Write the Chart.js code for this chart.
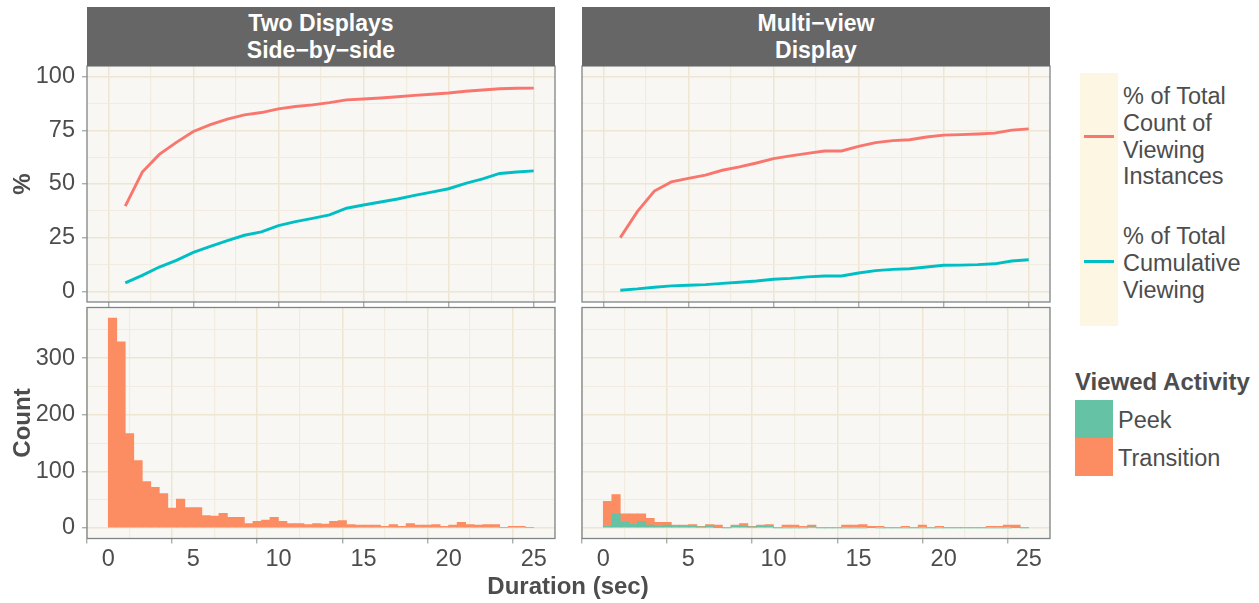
<!DOCTYPE html>
<html>
<head>
<meta charset="utf-8">
<script src="https://cdn.jsdelivr.net/npm/chart.js@4.4.1/dist/chart.umd.min.js"></script>
<style>
  body { margin: 0; background: #ffffff; }
  #fig { position: relative; width: 1259px; height: 603px; overflow: hidden;
         font-family: "Liberation Sans", Arial, Helvetica, sans-serif; color: #4D4D4D; }
  #fig canvas { position: absolute; }
  .strip { position: absolute; top: 7px; height: 59px; background: #666666; color: #ffffff;
           font-weight: bold; font-size: 23px; line-height: 27px; text-align: center;
           display: flex; flex-direction: column; justify-content: center; }
  .txt { position: absolute; white-space: nowrap; }
  .key { position: absolute; }
</style>
</head>
<body>
<div id="fig">
  <canvas id="pctTwo"></canvas>
  <canvas id="pctMulti"></canvas>
  <canvas id="cntTwo"></canvas>
  <canvas id="cntMulti"></canvas>

  <div class="strip" style="left:87px;width:468px;"><div>Two Displays</div><div>Side−by−side</div></div>
  <div class="strip" style="left:582px;width:468px;"><div>Multi−view</div><div>Display</div></div>

  <div class="txt" style="left:568px;top:572px;transform:translateX(-50%);font-weight:bold;font-size:24px;line-height:28px;">Duration (sec)</div>

  <!-- line legend -->
  <div class="key" style="left:1080px;top:72.7px;width:37.7px;height:253px;background:#FDF6E3;"></div>
  <div class="key" style="left:1084px;top:134.5px;width:30px;height:3px;background:#F8766D;"></div>
  <div class="key" style="left:1084px;top:260.3px;width:30px;height:3px;background:#00BFC4;"></div>
  <div class="txt" style="left:1123px;top:83.3px;font-size:23.5px;line-height:26.7px;">% of Total<br>Count of<br>Viewing<br>Instances</div>
  <div class="txt" style="left:1123px;top:222.5px;font-size:23.5px;line-height:27px;">% of Total<br>Cumulative<br>Viewing</div>

  <!-- fill legend -->
  <div class="txt" style="left:1075px;top:367.7px;font-weight:bold;font-size:24px;line-height:28px;">Viewed Activity</div>
  <div class="key" style="left:1075px;top:400px;width:38px;height:37.7px;background:#66C2A5;"></div>
  <div class="key" style="left:1075px;top:437.7px;width:38px;height:38px;background:#FC8D62;"></div>
  <div class="txt" style="left:1118px;top:406px;font-size:23.5px;line-height:28px;">Peek</div>
  <div class="txt" style="left:1118px;top:444px;font-size:23.5px;line-height:28px;">Transition</div>
</div>

<script>
// ---- cumulative percentages by viewing duration (seconds) ----
const seconds = [1, 2, 3, 4, 5, 6, 7, 8, 9, 10, 11, 12, 13, 14, 15, 16, 17, 18, 19, 20, 21, 22, 23, 24, 25];

const twoDisplaysCountPct   = [39.7, 55.6, 63.8, 69.4, 74.5, 77.7, 80.2, 82.2, 83.3, 85.0, 86.1, 86.9, 87.9,
                               89.2, 89.6, 90.1, 90.7, 91.3, 91.8, 92.4, 93.2, 93.8, 94.4, 94.6, 94.7];
const twoDisplaysViewingPct = [3.9, 7.4, 11.3, 14.4, 18.1, 20.9, 23.6, 26.1, 27.7, 30.6, 32.5, 34.0, 35.6,
                               38.7, 40.2, 41.6, 43.0, 44.7, 46.2, 47.8, 50.3, 52.4, 54.9, 55.6, 56.1];
const multiViewCountPct     = [25.0, 37.1, 46.7, 51.0, 52.6, 54.1, 56.4, 58.0, 59.8, 61.8, 63.1, 64.3, 65.4,
                               65.4, 67.5, 69.3, 70.2, 70.6, 71.9, 72.8, 73.0, 73.3, 73.7, 75.1, 75.7];
const multiViewViewingPct   = [0.5, 1.1, 1.9, 2.5, 2.8, 3.1, 3.7, 4.2, 4.8, 5.6, 6.0, 6.7, 7.1,
                               7.1, 8.5, 9.6, 10.2, 10.5, 11.3, 12.1, 12.2, 12.4, 12.8, 14.1, 14.7];

// ---- histogram counts, 0.5 s bins from 0 to 25 s ----
const binWidth = 0.5;
const twoDisplaysTransition = [371, 329, 167, 119, 82, 72, 61, 35, 51, 36, 36, 22, 21, 26, 19, 19, 8, 12, 14, 19,
                               12, 8, 8, 6, 8, 7, 12, 13, 6, 5, 5, 5, 3, 6, 3, 8, 5, 5, 6, 3,
                               5, 10, 6, 5, 6, 6, 1, 3, 3, 1];
const multiViewPeek         = [3, 25, 11, 8, 12, 5, 3, 5, 3, 3, 3, 2, 3, 1, 0, 3, 3, 2, 3, 3,
                               0, 0, 0, 0, 2, 0, 0, 0, 0, 0, 0, 1, 0, 0, 0, 0, 0, 0, 0, 0,
                               0, 0, 0, 0, 0, 0, 0, 0, 1, 0];
const multiViewTransition   = [44, 34, 14, 17, 13, 12, 7, 5, 2, 2, 3, 1, 3, 4, 1, 2, 5, 1, 2, 3,
                               1, 5, 5, 3, 3, 1, 1, 1, 5, 5, 6, 2, 3, 1, 1, 3, 1, 5, 1, 3,
                               1, 1, 1, 1, 1, 3, 3, 5, 4, 1];

// ---- tick positions (major + minor grid) ----
const xTicks     = [0, 2.5, 5, 7.5, 10, 12.5, 15, 17.5, 20, 22.5, 25];
const xLabels    = [0, 5, 10, 15, 20, 25];
const pctTicks   = [0, 12.5, 25, 37.5, 50, 62.5, 75, 87.5, 100];
const pctLabels  = [0, 25, 50, 75, 100];
const cntTicks   = [0, 50, 100, 150, 200, 250, 300, 350];
const cntLabels  = [0, 100, 200, 300];

// ---- style ----
const RED = '#F8766D', TEAL = '#00BFC4', PEEK = '#66C2A5', TRANS = '#FC8D62';
const TEXT = '#4D4D4D', TICK = '#9AA3A3';
const GRID_MAJOR = '#EEE6D2', GRID_MINOR = '#F1ECDF';

Chart.defaults.font.family = '"Liberation Sans", Arial, Helvetica, sans-serif';
Chart.defaults.color = TEXT;
Chart.defaults.animation = false;

const panelFrame = {
  id: 'panelFrame',
  beforeDraw(chart) {
    const { ctx, chartArea: a } = chart;
    ctx.save();
    ctx.fillStyle = '#F8F7F4';
    ctx.fillRect(a.left, a.top, a.right - a.left, a.bottom - a.top);
    ctx.restore();
  },
  afterDraw(chart) {
    const { ctx, chartArea: a } = chart;
    ctx.save();
    ctx.strokeStyle = '#7F8585';
    ctx.lineWidth = 1.3;
    ctx.strokeRect(a.left, a.top, a.right - a.left, a.bottom - a.top);
    ctx.restore();
  }
};

function setTicks(values) {
  return scale => { scale.ticks = values.map(v => ({ value: v })); };
}

function isMajor(labels) {
  return c => !!(c && c.tick && labels.includes(c.tick.value));
}

function noPad(s) {
  s.paddingLeft = 0; s.paddingRight = 0; s.paddingTop = 0; s.paddingBottom = 0;
}

function xScale(showLabels, axisHeight, stacked) {
  const major = isMajor(xLabels);
  return {
    type: 'linear', min: -1.25, max: 26.25, offset: false, stacked,
    afterBuildTicks: setTicks(xTicks),
    afterFit: s => { s.height = axisHeight; noPad(s); },
    border: { display: false },
    grid: {
      color: c => major(c) ? GRID_MAJOR : GRID_MINOR,
      lineWidth: c => major(c) ? 1.5 : 1.1,
      tickColor: c => major(c) ? TICK : 'rgba(0,0,0,0)',
      tickLength: 5, tickWidth: 1.2, drawTicks: true
    },
    ticks: {
      display: showLabels, autoSkip: false, maxRotation: 0, minRotation: 0, padding: 2,
      font: { size: 23.5 }, color: TEXT,
      callback: v => xLabels.includes(v) ? String(v) : ''
    }
  };
}

function yScale(ticks, labels, min, max, showLabels, axisWidth, title, stacked) {
  const major = isMajor(labels);
  return {
    type: 'linear', min, max, stacked,
    afterBuildTicks: setTicks(ticks),
    afterFit: s => { s.width = axisWidth; noPad(s); },
    border: { display: false },
    grid: {
      color: c => major(c) ? GRID_MAJOR : GRID_MINOR,
      lineWidth: c => major(c) ? 1.5 : 1.1,
      tickColor: c => major(c) ? TICK : 'rgba(0,0,0,0)',
      tickLength: 5, tickWidth: 1.2, drawTicks: showLabels
    },
    ticks: {
      display: showLabels, autoSkip: false, padding: 7,
      font: { size: 23.5 }, color: TEXT,
      callback: v => labels.includes(v) ? String(v) : ''
    },
    title: title ? { display: true, text: title, color: TEXT,
                     font: { size: 24, weight: 'bold' }, padding: { top: 9, bottom: 0 } }
                 : { display: false }
  };
}

// canvas box and plotting area, in page pixels
function place(id, box, area) {
  const c = document.getElementById(id);
  c.width = box.w; c.height = box.h;
  c.style.left = box.x + 'px'; c.style.top = box.y + 'px';
  c.style.width = box.w + 'px'; c.style.height = box.h + 'px';
  return {
    el: c,
    padding: { left: 0, top: area.top - box.y, right: box.x + box.w - area.right, bottom: 0 },
    yWidth: area.left - box.x,
    xHeight: box.y + box.h - area.bottom
  };
}

function lineSeries(values, color) {
  return {
    data: seconds.map((s, i) => ({ x: s, y: values[i] })),
    borderColor: color, backgroundColor: color, borderWidth: 2.9,
    pointRadius: 0, tension: 0, fill: false
  };
}

function binSeries(values, color, label) {
  return {
    label,
    data: values.map((v, i) => ({ x: (i + 0.5) * binWidth, y: v })),
    backgroundColor: color, borderWidth: 0,
    barPercentage: 1.0, categoryPercentage: 1.0
  };
}

function pctChart(id, box, area, countPct, viewingPct, withLabels) {
  const p = place(id, box, area);
  return new Chart(p.el, {
    type: 'line',
    data: { datasets: [lineSeries(viewingPct, TEAL), lineSeries(countPct, RED)] },
    options: {
      responsive: false, maintainAspectRatio: false,
      layout: { padding: p.padding },
      plugins: { legend: { display: false }, tooltip: { enabled: false } },
      scales: {
        x: xScale(false, p.xHeight, false),
        y: yScale(pctTicks, pctLabels, -5, 105, withLabels, p.yWidth, withLabels ? '%' : null, false)
      }
    },
    plugins: [panelFrame]
  });
}

function countChart(id, box, area, datasets, withLabels) {
  const p = place(id, box, area);
  return new Chart(p.el, {
    type: 'bar',
    data: { datasets },
    options: {
      responsive: false, maintainAspectRatio: false,
      layout: { padding: p.padding },
      plugins: { legend: { display: false }, tooltip: { enabled: false } },
      scales: {
        x: xScale(true, p.xHeight, true),
        y: yScale(cntTicks, cntLabels, -18.55, 389.6, withLabels, p.yWidth, withLabels ? 'Count' : null, true)
      }
    },
    plugins: [panelFrame]
  });
}

pctChart('pctTwo',   { x: 0,   y: 60, w: 560, h: 248 }, { left: 87,  top: 66, right: 555,  bottom: 302 },
         twoDisplaysCountPct, twoDisplaysViewingPct, true);
pctChart('pctMulti', { x: 575, y: 60, w: 485, h: 248 }, { left: 582, top: 66, right: 1050, bottom: 302 },
         multiViewCountPct, multiViewViewingPct, false);

countChart('cntTwo', { x: 0, y: 300, w: 560, h: 303 }, { left: 87, top: 307.5, right: 555, bottom: 538.5 },
           [binSeries(twoDisplaysTransition, TRANS, 'Transition')], true);
countChart('cntMulti', { x: 575, y: 300, w: 485, h: 303 }, { left: 582, top: 307.5, right: 1050, bottom: 538.5 },
           [binSeries(multiViewPeek, PEEK, 'Peek'), binSeries(multiViewTransition, TRANS, 'Transition')], false);
</script>
</body>
</html>
